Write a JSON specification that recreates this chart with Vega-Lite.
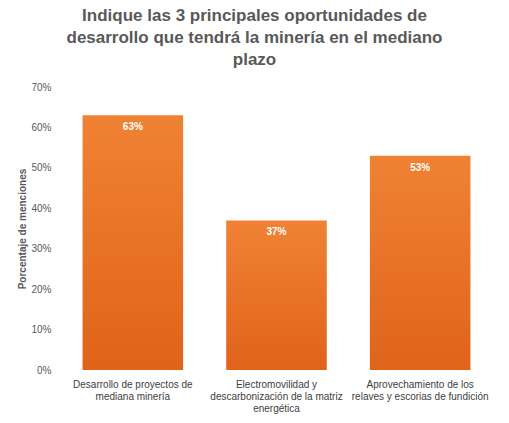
{
  "$schema": "https://vega.github.io/schema/vega-lite/v6.json",
  "width": 431,
  "height": 283,
  "autosize": {"type": "none"},
  "padding": {"left": 61, "top": 87, "right": 17, "bottom": 53},
  "background": "white",
  "title": {
    "text": ["Indique las 3 principales oportunidades de", "desarrollo que tendrá la minería en el mediano", "plazo"],
    "anchor": "middle",
    "dx": -22,
    "offset": 13,
    "font": "Liberation Sans",
    "fontSize": 17,
    "fontWeight": "bold",
    "color": "#595959",
    "lineHeight": 22
  },
  "data": {
    "values": [
      {"opcion": "Desarrollo de proyectos de|mediana minería", "pct": 0.63},
      {"opcion": "Electromovilidad y|descarbonización de la matriz|energética", "pct": 0.37},
      {"opcion": "Aprovechamiento de los|relaves y escorias de fundición", "pct": 0.53}
    ]
  },
  "encoding": {
    "x": {
      "field": "opcion",
      "type": "nominal",
      "sort": null,
      "scale": {"paddingInner": 0.3, "paddingOuter": 0.15},
      "axis": {
        "title": null,
        "labelAngle": 0,
        "labelExpr": "split(datum.label, '|')",
        "labelFont": "Liberation Sans",
        "labelFontSize": 10,
        "labelColor": "#404040",
        "labelLineHeight": 12,
        "labelPadding": 9,
        "labelLimit": 200,
        "domain": false,
        "ticks": false
      }
    },
    "y": {
      "field": "pct",
      "type": "quantitative",
      "scale": {"domain": [0, 0.7]},
      "axis": {
        "title": "Porcentaje de menciones",
        "titleFont": "Liberation Sans",
        "titleFontSize": 10,
        "titleFontWeight": "bold",
        "titleColor": "#595959",
        "titlePadding": 3,
        "format": ".0%",
        "values": [0, 0.1, 0.2, 0.3, 0.4, 0.5, 0.6, 0.7],
        "labelOverlap": false,
        "labelFont": "Liberation Sans",
        "labelFontSize": 10,
        "labelColor": "#595959",
        "labelPadding": 10,
        "grid": false,
        "domain": false,
        "ticks": false
      }
    }
  },
  "layer": [
    {
      "mark": {
        "type": "bar",
        "color": {
          "gradient": "linear",
          "x1": 0, "y1": 0, "x2": 0, "y2": 1,
          "stops": [
            {"offset": 0, "color": "#f08234"},
            {"offset": 1, "color": "#e0631a"}
          ]
        }
      }
    },
    {
      "mark": {
        "type": "text",
        "baseline": "top",
        "dy": 7,
        "font": "Liberation Sans",
        "fontSize": 10,
        "fontWeight": "bold",
        "color": "white"
      },
      "encoding": {
        "text": {"field": "pct", "type": "quantitative", "format": ".0%"}
      }
    }
  ],
  "config": {
    "view": {"stroke": null}
  }
}
